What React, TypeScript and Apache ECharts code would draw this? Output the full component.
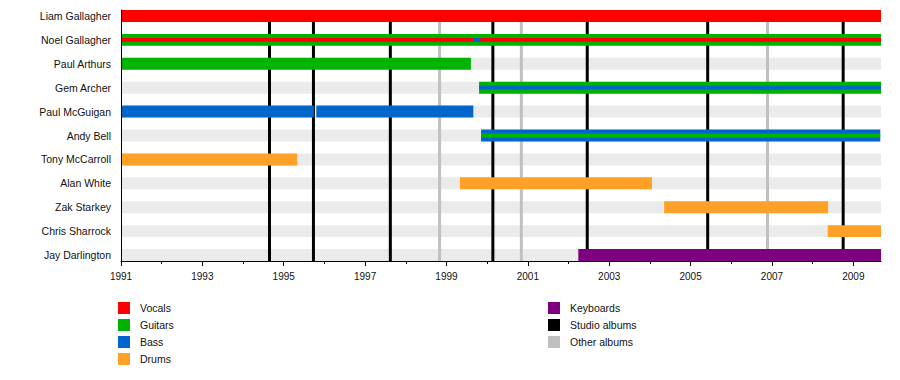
import React, { useEffect, useRef } from "react";
import * as echarts from "echarts";

const members = [
  "Liam Gallagher",
  "Noel Gallagher",
  "Paul Arthurs",
  "Gem Archer",
  "Paul McGuigan",
  "Andy Bell",
  "Tony McCarroll",
  "Alan White",
  "Zak Starkey",
  "Chris Sharrock",
  "Jay Darlington",
];

const START = 1991;
const END = 2009.68;

// [start, end, row index, secondary role (1 = drawn as middle stripe)]
const vocals = [
  [1991, END, 0, 0],
  [1991, END, 1, 1],
];
const guitars = [
  [1991, END, 1, 0],
  [1991, 1999.6, 2, 0],
  [1999.8, END, 3, 0],
  [1999.85, 2009.66, 5, 1],
];
const bass = [
  [1999.66, 1999.83, 1, 1],
  [1999.8, END, 3, 1],
  [1991, 1995.74, 4, 0],
  [1995.8, 1999.66, 4, 0],
  [1999.85, 2009.66, 5, 0],
];
const drums = [
  [1991, 1995.33, 6, 0],
  [1999.33, 2004.05, 7, 0],
  [2004.35, 2008.38, 8, 0],
  [2008.37, END, 9, 0],
];
const keyboards = [[2002.24, END, 10, 0]];

const studioAlbums = [1994.65, 1995.73, 1997.62, 2000.14, 2002.46, 2005.42, 2008.75];
const otherAlbums = [1998.83, 2000.84, 2006.89];

const majorTicks = [1991, 1993, 1995, 1997, 1999, 2001, 2003, 2005, 2007, 2009];
const minorTicks = [1992, 1994, 1996, 1998, 2000, 2002, 2004, 2006, 2008];

const COLORS = {
  Vocals: "#ff0000",
  Guitars: "#00b300",
  Bass: "#0066cc",
  Drums: "#ffa126",
  Keyboards: "#7f007f",
  "Studio albums": "#000000",
  "Other albums": "#c0c0c0",
  band: "#ebebeb",
};

const FONT = "Liberation Sans, Arial, Helvetica, sans-serif";

function barSeries(name: string, data: number[][]) {
  const color = (COLORS as any)[name];
  return {
    name,
    type: "custom",
    z: 3,
    silent: true,
    itemStyle: { color },
    encode: { x: [0, 1], y: 2 },
    data,
    renderItem: (params: any, api: any) => {
      const s = api.value(0);
      const e = api.value(1);
      const row = api.value(2);
      const mid = api.value(3);
      const top = api.coord([s, row - 0.25]);
      const bot = api.coord([s, row + 0.25]);
      const full = Math.abs(bot[1] - top[1]);
      const h = mid ? full / 3 : full;
      const p0 = api.coord([s, row]);
      const p1 = api.coord([e, row]);
      return {
        type: "rect",
        z2: mid ? 10 : 1,
        shape: { x: p0[0], y: p0[1] - h / 2, width: p1[0] - p0[0], height: h },
        style: { fill: color },
      };
    },
  };
}

function lineSeries(name: string, dates: number[]) {
  const color = (COLORS as any)[name];
  return {
    name,
    type: "custom",
    z: 2,
    silent: true,
    itemStyle: { color },
    encode: { x: 0, y: 1 },
    data: dates.map((d) => [d, 0]),
    renderItem: (params: any, api: any) => {
      const cs = params.coordSys;
      const x = api.coord([api.value(0), 0])[0];
      return {
        type: "line",
        shape: { x1: x, y1: cs.y, x2: x, y2: cs.y + cs.height },
        style: { stroke: color, lineWidth: 3 },
      };
    },
  };
}

export default function App() {
  const ref = useRef<HTMLDivElement>(null);

  useEffect(() => {
    if (!ref.current) return;
    const chart = echarts.init(ref.current, null, { renderer: "svg" });
    const option: any = {
      animation: false,
      backgroundColor: "#ffffff",
      textStyle: { fontFamily: FONT },
      grid: { left: 121, right: 19, top: 10, bottom: 119, containLabel: false },
      xAxis: [
        {
          type: "value",
          min: START,
          max: END,
          position: "bottom",
          offset: 0,
          z: 5,
          axisLine: { show: true, onZero: false, lineStyle: { color: "#000", width: 1 } },
          axisTick: { show: true, customValues: majorTicks, length: 5, lineStyle: { color: "#000" } },
          axisLabel: {
            show: true,
            customValues: majorTicks,
            formatter: (v: number) => String(Math.round(v)),
            fontSize: 10,
            color: "#111",
            fontFamily: FONT,
            margin: 10,
          },
          splitLine: { show: false },
        },
        {
          type: "value",
          min: START,
          max: END,
          position: "bottom",
          offset: 0,
          z: 5,
          axisLine: { show: false, onZero: false },
          axisTick: { show: true, customValues: minorTicks, length: 3, lineStyle: { color: "#000" } },
          axisLabel: { show: false },
          splitLine: { show: false },
        },
      ],
      yAxis: {
        type: "value",
        inverse: true,
        min: -0.25,
        max: 10.25,
        z: 5,
        axisLine: { show: true, onZero: false, lineStyle: { color: "#000", width: 1 } },
        axisTick: { show: false },
        splitLine: { show: false },
        axisLabel: {
          show: true,
          customValues: members.map((_, i) => i),
          formatter: (v: number) => members[Math.round(v)] ?? "",
          fontSize: 10.5,
          color: "#111",
          fontFamily: FONT,
          margin: 10,
        },
      },
      legend: [
        {
          data: ["Vocals", "Guitars", "Bass", "Drums"],
          orient: "vertical",
          left: 118,
          top: 302,
          padding: 0,
          itemWidth: 12,
          itemHeight: 12,
          itemGap: 5,
          icon: "rect",
          selectedMode: false,
          textStyle: { fontSize: 10.5, color: "#111", fontFamily: FONT, padding: [2, 0, 0, 5] },
        },
        {
          data: ["Keyboards", "Studio albums", "Other albums"],
          orient: "vertical",
          left: 548,
          top: 302,
          padding: 0,
          itemWidth: 12,
          itemHeight: 12,
          itemGap: 5,
          icon: "rect",
          selectedMode: false,
          textStyle: { fontSize: 10.5, color: "#111", fontFamily: FONT, padding: [2, 0, 0, 5] },
        },
      ],
      series: [
        {
          name: "band",
          type: "custom",
          z: 1,
          silent: true,
          encode: { x: 0, y: 1 },
          data: members.map((_, i) => [START, i]),
          renderItem: (params: any, api: any) => {
            const cs = params.coordSys;
            const row = api.value(1);
            const top = api.coord([START, row - 0.25])[1];
            const bot = api.coord([START, row + 0.25])[1];
            return {
              type: "rect",
              shape: { x: cs.x, y: Math.min(top, bot), width: cs.width, height: Math.abs(bot - top) },
              style: { fill: COLORS.band },
            };
          },
        },
        lineSeries("Studio albums", studioAlbums),
        lineSeries("Other albums", otherAlbums),
        barSeries("Vocals", vocals),
        barSeries("Guitars", guitars),
        barSeries("Bass", bass),
        barSeries("Drums", drums),
        barSeries("Keyboards", keyboards),
      ],
    };
    chart.setOption(option);
    return () => chart.dispose();
  }, []);

  return (
    <div
      ref={ref}
      style={{ position: "fixed", left: 0, top: 0, width: 900, height: 380, background: "#fff" }}
    />
  );
}
